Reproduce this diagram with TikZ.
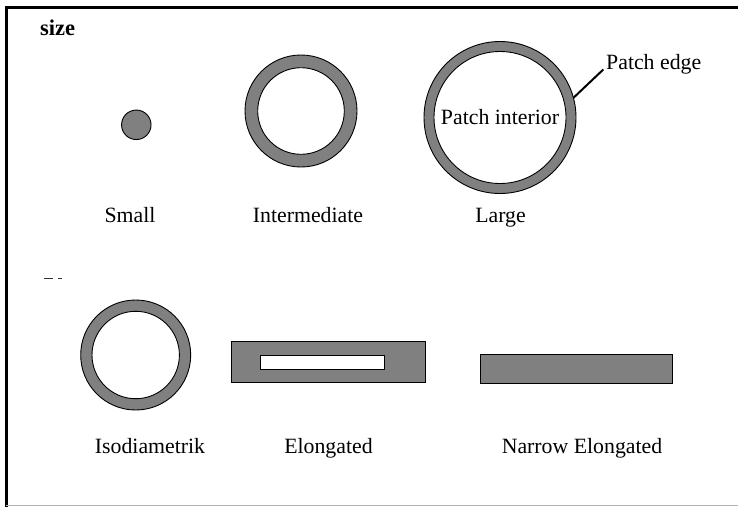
\documentclass[tikz,border=0pt]{standalone}
\usepackage{fontspec}
\setmainfont{Liberation Serif}
\begin{document}
\begin{tikzpicture}[x=1pt,y=-1pt,
  patch/.style={circle,draw=black,line width=0.9pt,fill=patchgray,inner sep=0pt,outer sep=0pt},
  hole/.style={circle,draw=black,line width=0.9pt,fill=white,inner sep=0pt,outer sep=0pt},
  bar/.style={rectangle,draw=black,line width=0.9pt,fill=patchgray,inner sep=0pt,outer sep=0pt},
  slot/.style={rectangle,draw=black,line width=0.9pt,fill=white,inner sep=0pt,outer sep=0pt},
  lbl/.style={font=\fontsize{21.8}{24}\selectfont,inner sep=0pt,anchor=base}]
\definecolor{patchgray}{HTML}{808080}
\useasboundingbox (0,0) rectangle (738,507);
\fill[white] (0,0) rectangle (738,507);
% frame
\draw[line width=3pt] (6,507) -- (6,7.5) -- (738,7.5);
\draw[line width=1pt,black!30] (6,505.5) -- (738,505.5);
% heading
\node[lbl,font=\fontsize{22.5}{24}\selectfont\bfseries,anchor=base west] (size) at (40,35.5) {size};
% clipped heading remnant
\draw[line width=1pt,black!80] (43.5,278.3) -- (52.5,278.3);
\draw[line width=1pt,black!80] (57.7,278.3) -- (61.5,278.3);
% size row
\node[patch,minimum size=29.5pt] (small) at (136.3,124.8) {};
\node[patch,minimum size=112pt] (mid) at (301,111) {};
\node[hole,minimum size=86.6pt] (midhole) at (mid) {};
\node[patch,minimum size=152pt] (large) at (500,117.5) {};
\node[hole,minimum size=132pt] (largehole) at (large) {};
\node[lbl] (interior) at (500,124.3) {Patch interior};
\node[lbl,anchor=base west] (edge) at (606,69.3) {Patch edge};
\coordinate (edgetip) at (603.3,69.5);
\draw[line width=2pt] (large.15) -- (edgetip);
\node[lbl] (lsmall) at (130,222) {Small};
\node[lbl] (lmid) at (308,222) {Intermediate};
\node[lbl] (llarge) at (500.5,222) {Large};
% shape row
\node[patch,minimum size=110pt] (iso) at (135.7,355) {};
\node[hole,minimum size=87.4pt] (isohole) at (iso) {};
\node[bar,minimum width=193.3pt,minimum height=41.7pt] (elong) at (328.3,361.8) {};
\node[slot,minimum width=124pt,minimum height=14.3pt] (elonghole) at (322,362.2) {};
\node[bar,minimum width=192pt,minimum height=29pt] (narrow) at (576,368.5) {};
\node[lbl] (liso) at (150,453) {Isodiametrik};
\node[lbl] (lelong) at (328.5,453) {Elongated};
\node[lbl] (lnarrow) at (582,453) {Narrow Elongated};
\end{tikzpicture}
\end{document}
